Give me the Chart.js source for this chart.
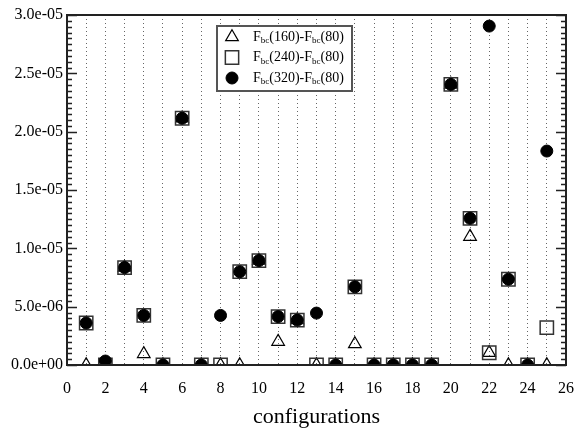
<!DOCTYPE html>
<html>
<head>
<meta charset="utf-8">
<script src="https://cdn.jsdelivr.net/npm/chart.js@4"></script>
<style>
  html, body { margin: 0; padding: 0; background: #fff; }
  #wrap { width: 579px; height: 430px; position: relative; }
</style>
</head>
<body>
<div id="wrap"><canvas id="chartCanvas"></canvas></div>
<script>
// ---------- data ----------
const configs = [1,2,3,4,5,6,7,8,9,10,11,12,13,14,15,16,17,18,19,20,21,22,23,24,25];
const diff160 = [0, 0, 8.35e-6, 0.95e-6, 0, 2.115e-5, 0, 0, 0, 8.95e-6, 2.0e-6, 3.85e-6, 0, 0, 1.8e-6,
                 0, 0, 0, 0, 2.405e-5, 1.10e-5, 1.05e-6, 0, 0, 0];
const diff240 = [3.6e-6, 0, 8.35e-6, 4.25e-6, 0, 2.115e-5, 0, 0, 8.0e-6, 8.95e-6, 4.15e-6, 3.85e-6, 0, 0, 6.7e-6,
                 0, 0, 0, 0, 2.405e-5, 1.257e-5, 1.05e-6, 7.35e-6, 0, 3.2e-6];
const diff320 = [3.6e-6, 3.4e-7, 8.35e-6, 4.25e-6, 0, 2.115e-5, 0, 4.25e-6, 8.0e-6, 8.95e-6, 4.15e-6, 3.85e-6, 4.45e-6, 0, 6.7e-6,
                 0, 0, 0, 0, 2.405e-5, 1.257e-5, 2.905e-5, 7.35e-6, 0, 1.834e-5];
const seriesNames = [["160", "80"], ["240", "80"], ["320", "80"]];
const xTitle = "configurations";

const SERIF = "'Liberation Serif', 'DejaVu Serif', serif";

function pts(vals){ return configs.map((c, i) => ({ x: c, y: vals[i] })); }

// 3.0e-05 style labels
function expLabel(v){
  const [m, e] = Number(v).toExponential(1).split("e");
  return m + "e" + e[0] + e.slice(1).padStart(2, "0");
}

// ----- frame + inward ticks -----
const framePlugin = {
  id: "frame",
  afterDraw(chart){
    const { ctx, chartArea: a, scales: { y } } = chart;
    ctx.save();
    ctx.strokeStyle = "#222";
    ctx.lineWidth = 1.5;
    const step = 5e-7;
    for (let i = 0; i <= 60; i++){
      const py = Math.round(y.getPixelForValue(i * step)) + 0.5;
      const len = i % 10 === 0 ? 10 : 5;
      ctx.beginPath();
      ctx.moveTo(a.left, py); ctx.lineTo(a.left + len, py);
      ctx.moveTo(a.right, py); ctx.lineTo(a.right - len, py);
      ctx.stroke();
    }
    ctx.lineWidth = 2;
    ctx.strokeRect(a.left, a.top, a.right - a.left, a.bottom - a.top);
    ctx.restore();
  }
};

// ----- legend with subscripts -----
const legendPlugin = {
  id: "subLegend",
  afterDraw(chart){
    const { ctx } = chart;
    const bx = 217, by = 26, bw = 135, bh = 65;
    ctx.save();
    ctx.fillStyle = "#fff";
    ctx.fillRect(bx, by, bw, bh);
    ctx.strokeStyle = "#555";
    ctx.lineWidth = 2;
    ctx.strokeRect(bx, by, bw, bh);
    chart.data.datasets.forEach((ds, i) => {
      const ry = 37 + i * 20.5;
      ctx.fillStyle = ds.pointBackgroundColor;
      ctx.strokeStyle = ds.pointBorderColor;
      ctx.lineWidth = ds.pointBorderWidth;
      Chart.helpers.drawPoint(ctx, { pointStyle: ds.pointStyle, radius: ds.pointRadius, borderWidth: ds.pointBorderWidth, rotation: 0 }, 232, ry);
      // text
      let tx = 253;
      ctx.fillStyle = "#000";
      ctx.textBaseline = "middle";
      const parts = [["F", 0], ["bc", 1], ["(" + seriesNames[i][0] + ")-F", 0], ["bc", 1], ["(" + seriesNames[i][1] + ")", 0]];
      parts.forEach(([t, sub]) => {
        ctx.font = (sub ? "9px " : "14px ") + SERIF;
        ctx.fillText(t, tx, sub ? ry + 4 : ry);
        tx += ctx.measureText(t).width;
      });
    });
    ctx.restore();
  }
};

const chart = new Chart(document.getElementById("chartCanvas"), {
  type: "scatter",
  data: {
    datasets: [
      { label: "160", data: pts(diff160), order: 2, pointStyle: "triangle", pointRadius: 7.3,
        pointBackgroundColor: "rgba(255,255,255,0)", pointBorderColor: "#000", pointBorderWidth: 1.2 },
      { label: "240", data: pts(diff240), order: 1, pointStyle: "rect", pointRadius: 9.4,
        pointBackgroundColor: "rgba(255,255,255,0)", pointBorderColor: "#333", pointBorderWidth: 1.5 },
      { label: "320", data: pts(diff320), order: 0, pointStyle: "circle", pointRadius: 6,
        pointBackgroundColor: "#000", pointBorderColor: "#000", pointBorderWidth: 1 }
    ]
  },
  options: {
    responsive: true,
    maintainAspectRatio: false,
    animation: false,
    layout: { padding: { top: 15, right: 13, left: 0, bottom: 0 } },
    plugins: { legend: { display: false }, tooltip: { enabled: false } },
    scales: {
      x: {
        type: "linear", min: 0, max: 26,
        grid: { display: true, color: "#666", lineWidth: 1, drawTicks: false },
        border: { display: false, dash: [1, 3] },
        ticks: {
          stepSize: 1, autoSkip: false, maxRotation: 0, padding: 14,
          color: "#000", font: { family: SERIF, size: 16 },
          callback: v => (v % 2 === 0 ? String(v) : "")
        },
        title: { display: true, text: xTitle, color: "#000", font: { family: SERIF, size: 22 }, padding: { top: 2, bottom: 0 } },
        afterFit: s => { s.height = 65; s.paddingLeft = 0; s.paddingRight = 0; }
      },
      y: {
        min: 0, max: 3e-5,
        grid: { display: false, drawTicks: false },
        border: { display: false },
        ticks: {
          stepSize: 5e-6, padding: 4, color: "#000", font: { family: SERIF, size: 16 },
          callback: v => expLabel(v)
        },
        afterFit: s => { s.width = 67; s.paddingTop = 0; s.paddingBottom = 0; }
      }
    }
  },
  plugins: [framePlugin, legendPlugin]
});
</script>
</body>
</html>
